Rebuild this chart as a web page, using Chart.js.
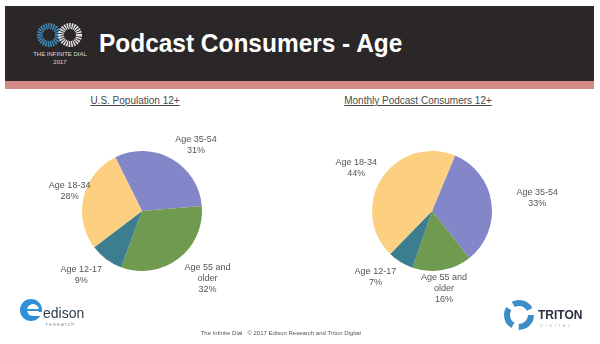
<!DOCTYPE html>
<html lang="en">
<head>
    <meta charset="UTF-8">
    <title>Podcast Consumers - Age</title>
    <script src="https://cdn.jsdelivr.net/npm/chart.js"></script>
    <style>
        body {
            margin: 0;
            width: 600px;
            height: 344px;
            background: #ffffff;
            font-family: 'Liberation Sans', Arial, sans-serif;
            position: relative;
            overflow: hidden;
        }

        .header {
            position: absolute;
            left: 5px;
            top: 6px;
            width: 589px;
            height: 75px;
            background: #2b2627;
        }

        .band {
            position: absolute;
            left: 5px;
            top: 81px;
            width: 589px;
            height: 8px;
            background: #d38a88;
        }

        .title {
            position: absolute;
            left: 99px;
            top: 28px;
            color: #ffffff;
            font-weight: bold;
            font-size: 26px;
            white-space: nowrap;
            transform-origin: left top;
            transform: scaleX(0.94);
        }

        .subtitle {
            position: absolute;
            top: 95px;
            font-size: 10px;
            color: #4a4a4a;
            text-decoration: underline;
            white-space: nowrap;
            transform: translateX(-50%);
        }

        .footer {
            position: absolute;
            left: 300px;
            top: 330px;
            font-size: 6px;
            color: #555;
            white-space: nowrap;
            transform: translateX(-62%);
        }

        canvas {
            position: absolute;
            top: 91px;
        }

        svg {
            position: absolute;
        }
    </style>
</head>
<body>

<div class="header"></div>
<div class="band"></div>

<!-- Infinite Dial logo -->
<svg style="left:30px; top:14px" width="62" height="54">
    <circle cx="19" cy="21" r="9" fill="none" stroke="#3d8fc2" stroke-width="6" stroke-dasharray="1.4 0.9"/>
    <circle cx="40" cy="21" r="9" fill="none" stroke="#e4e4e4" stroke-width="6" stroke-dasharray="1.4 0.9"/>
    <text x="30" y="42" fill="#dddddd" font-size="6" text-anchor="middle" font-family="Liberation Sans">THE INFINITE DIAL</text>
    <text x="30" y="50" fill="#dddddd" font-size="6" text-anchor="middle" font-family="Liberation Sans">2017</text>
</svg>

<div class="title">Podcast Consumers - Age</div>

<div class="subtitle" style="left:135px">U.S. Population 12+</div>
<div class="subtitle" style="left:418px">Monthly Podcast Consumers 12+</div>

<canvas id="usChart" width="300" height="240" style="left:0"></canvas>
<canvas id="podcastChart" width="300" height="240" style="left:300px"></canvas>

<!-- Edison logo -->
<svg style="left:16px; top:294px" width="70" height="36">
    <circle cx="15" cy="16" r="11" fill="#2f8fd8"/>
    <circle cx="17" cy="16" r="6" fill="#ffffff"/>
    <path d="M10 16 L24 16" stroke="#2f8fd8" stroke-width="2"/>
    <rect x="17" y="18" width="10" height="4" fill="#ffffff"/>
    <text x="27" y="24" fill="#2c3b4c" font-size="14" font-family="Liberation Sans">edison</text>
    <text x="30" y="32" fill="#7a93a8" font-size="5.5" letter-spacing="1" font-family="Liberation Sans">research</text>
</svg>

<!-- Triton logo -->
<svg style="left:503px; top:298px" width="80" height="34">
    <circle cx="16" cy="17" r="12" fill="none" stroke="#3b8ec8" stroke-width="6" stroke-dasharray="19 6.1"/>
    <text x="35" y="21" fill="#2a3140" font-size="12" font-weight="bold" font-family="Liberation Sans">TRITON</text>
    <text x="37" y="29" fill="#b0b6c0" font-size="4" letter-spacing="2.5" font-family="Liberation Sans">DIGITAL</text>
</svg>

<div class="footer">The Infinite Dial&nbsp;&nbsp; © 2017 Edison Research and Triton Digital</div>

<script>
    // slice order follows the original chart (clockwise from the 35-54 slice)
    const ageGroups = ['Age 35-54', 'Age 55 and older', 'Age 12-17', 'Age 18-34'];
    const labelLines = [['Age 35-54'], ['Age 55 and', 'older'], ['Age 12-17'], ['Age 18-34']];
    const usPopulation = [31, 32, 9, 28];
    const podcastConsumers = [33, 16, 7, 44];
    const sliceColors = ['#8386c9', '#6f9a50', '#3c7d8f', '#fdd081'];

    // draws the "Age xx / nn%" labels outside each slice
    const pieLabels = {
        id: 'pieLabels',
        afterDatasetsDraw(chart, args, opts) {
            const ctx = chart.ctx;
            const meta = chart.getDatasetMeta(0);
            const values = chart.data.datasets[0].data;
            ctx.save();
            ctx.font = '9px "Liberation Sans", Arial, sans-serif';
            ctx.fillStyle = '#555555';
            ctx.textAlign = 'center';
            ctx.textBaseline = 'middle';
            meta.data.forEach((arc, i) => {
                const p = arc.getProps(['x', 'y', 'startAngle', 'endAngle'], true);
                const mid = (p.startAngle + p.endAngle) / 2 + opts.nudge[i] * Math.PI / 180;
                const cx = p.x + opts.dist[i] * Math.cos(mid);
                const cy = p.y + opts.dist[i] * Math.sin(mid);
                const lines = labelLines[i].concat([values[i] + '%']);
                const lh = 11;
                lines.forEach((t, k) => {
                    ctx.fillText(t, cx, cy + (k - (lines.length - 1) / 2) * lh);
                });
            });
            ctx.restore();
        }
    };

    function makePie(id, values, rotation, padding, labelOpts) {
        return new Chart(document.getElementById(id), {
            type: 'pie',
            data: {
                labels: ageGroups,
                datasets: [{
                    data: values,
                    backgroundColor: sliceColors,
                    borderWidth: 0,
                    hoverOffset: 0,
                    offset: 0
                }]
            },
            options: {
                responsive: false,
                animation: false,
                rotation: rotation,
                layout: { padding: padding },
                plugins: {
                    legend: { display: false },
                    tooltip: { enabled: false },
                    pieLabels: labelOpts
                }
            },
            plugins: [pieLabels]
        });
    }

    makePie('usChart', usPopulation, -26.4,
        { left: 82, right: 98, top: 60, bottom: 60 },
        { dist: [85, 94, 88, 75], nudge: [10, -7, 7, 2] });

    makePie('podcastChart', podcastConsumers, 22.6,
        { left: 72, right: 108, top: 60, bottom: 60 },
        { dist: [106, 78, 87, 87], nudge: [1, 1, 9, -4] });
</script>
</body>
</html>
